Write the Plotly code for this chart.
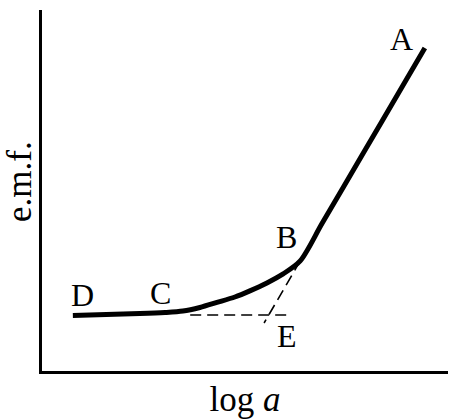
import plotly.graph_objects as go

# Curve (log a vs e.m.f.), arbitrary units
curve_x = [0.76, 2.41, 3.03, 3.47, 3.89, 4.31, 4.75, 5.12, 5.54, 5.94, 6.36, 6.90, 7.90, 8.90, 9.43]
curve_y = [1.54, 1.59, 1.62, 1.66, 1.76, 1.90, 2.05, 2.22, 2.44, 2.69, 3.05, 4.09, 6.01, 7.93, 8.95]

# Extrapolations meeting at E
horiz_x = [3.65, 6.06]
horiz_y = [1.55, 1.55]
diag_x = [6.36, 5.47]
diag_y = [3.05, 1.33]

label_text = ["A", "B", "C", "D", "E"]
label_x = [8.85, 6.03, 2.93, 0.99, 6.03]
label_y = [9.20, 3.70, 2.15, 2.10, 0.97]

FONT = "Liberation Serif, Times New Roman, serif"

fig = go.Figure()
fig.add_trace(go.Scatter(x=horiz_x, y=horiz_y, mode="lines",
                         line=dict(color="black", width=1.6, dash="11px,6px"),
                         hoverinfo="skip"))
fig.add_trace(go.Scatter(x=diag_x, y=diag_y, mode="lines",
                         line=dict(color="black", width=1.6, dash="11px,6px"),
                         hoverinfo="skip"))
fig.add_trace(go.Scatter(x=curve_x, y=curve_y, mode="lines",
                         line=dict(color="black", width=5, shape="spline", smoothing=0.8),
                         hoverinfo="skip"))

for t, x, y in zip(label_text, label_x, label_y):
    fig.add_annotation(x=x, y=y, text=t, showarrow=False,
                       font=dict(family=FONT, size=32, color="black"),
                       xanchor="center", yanchor="middle")

# y-axis title placed as rotated annotation (sits slightly above centre)
fig.add_annotation(xref="paper", yref="paper", x=-0.054, y=0.524,
                   text="e.m.f.", textangle=-90, showarrow=False,
                   font=dict(family=FONT, size=35, color="black"),
                   xanchor="center", yanchor="middle")

fig.update_layout(
    width=457, height=419,
    margin=dict(l=42, r=9, t=10, b=48, autoexpand=False),
    paper_bgcolor="white", plot_bgcolor="white",
    showlegend=False,
    font=dict(family=FONT, color="black"),
)
fig.update_xaxes(range=[0, 10], showgrid=False, zeroline=False, automargin=False,
                 showticklabels=False, ticks="", showline=True,
                 linecolor="black", linewidth=2.5,
                 title=dict(text="log <i>a</i>", font=dict(family=FONT, size=35), standoff=21))
fig.update_yaxes(range=[0, 10], showgrid=False, zeroline=False, automargin=False,
                 showticklabels=False, ticks="", showline=True,
                 linecolor="black", linewidth=2.5)

fig.write_html("out.html", config={"displayModeBar": False},
               post_script="document.body.style.margin='0';")
